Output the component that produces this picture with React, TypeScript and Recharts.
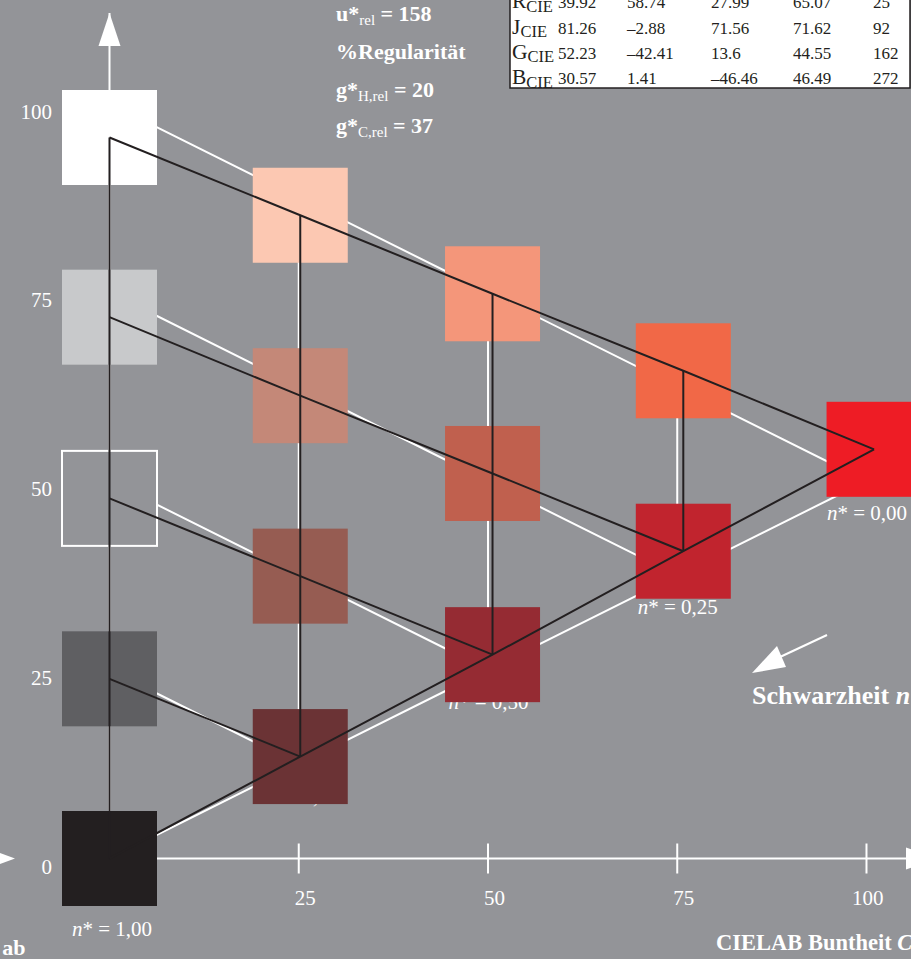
import React from 'react';
import { ComposedChart, Scatter, XAxis, YAxis, ReferenceDot } from 'recharts';

// ---------- data ----------
const chromaTicks = [25, 50, 75, 100];
const lightnessTicks = [0, 25, 50, 75, 100];

// ideal (theoretical) CIELAB grid, per chroma column: lightness values top -> bottom
const idealChroma = [0, 25, 50, 75, 100];
const idealL_c0 = [100, 75, 50, 25, 0];
const idealL_c1 = [87.5, 62.5, 37.5, 12.5];
const idealL_c2 = [75, 50, 25];
const idealL_c3 = [62.5, 37.5];
const idealL_c4 = [50];

// measured samples, per chroma column: lightness values top -> bottom
const measChroma = [0, 25.2, 50.6, 75.8, 101.0];
const measL_c0 = [95.5, 71.7, 47.7, 23.8, 0];
const measL_c1 = [85.2, 61.3, 37.4, 13.5];
const measL_c2 = [74.8, 51.0, 27.0];
const measL_c3 = [64.6, 40.7];
const measL_c4 = [54.2];

// blackness labels per column (at bottom ideal point)
const blacknessLabels = ['1,00', '0,75', '0,50', '0,25', '0,00'];

// table
const tableNames = ['R', 'J', 'G', 'B'];
const tableLstar = [39.92, 81.26, 52.23, 30.57];
const tableAstar = [58.74, -2.88, -42.41, 1.41];
const tableBstar = [27.99, 71.56, 13.6, -46.46];
const tableCstar = [65.07, 71.62, 44.55, 46.49];
const tableHue = [25, 92, 162, 272];

// ---------- styles ----------
const BG = '#939498';
const INK = '#231F20';
const SERIF = '"Liberation Serif", "Times New Roman", Times, serif';

const colColors0 = ['#FFFFFF', '#C8C9CB', 'outline', '#5F5F62', '#231F20'];
const colColors1 = ['#FCC8B2', '#C48878', '#965C52', '#6B3335'];
const colColors2 = ['#F4967A', '#C0604E', '#952B33'];
const colColors3 = ['#F16847', '#C1242E'];
const colColors4 = ['#EE1C25'];

const X_MAX = 105.22;
const Y_MAX = 111.99;
const PATCH = 95;

// ---------- derived tables ----------
const idealCols = [idealL_c0, idealL_c1, idealL_c2, idealL_c3, idealL_c4];
const measCols = [measL_c0, measL_c1, measL_c2, measL_c3, measL_c4];
const colorCols = [colColors0, colColors1, colColors2, colColors3, colColors4];

type Pt = { C: number; L: number };

function gridLines(chroma: number[], cols: number[][]): Pt[][] {
  const lines: Pt[][] = [];
  // constant-chroma verticals
  cols.forEach((ls, j) => {
    if (ls.length > 1) lines.push(ls.map((L) => ({ C: chroma[j], L })));
  });
  // constant-blackness rows
  for (let i = 0; i < cols[0].length; i++) {
    const row: Pt[] = [];
    cols.forEach((ls, j) => {
      if (ls.length > i) row.push({ C: chroma[j], L: ls[i] });
    });
    if (row.length > 1) lines.push(row);
  }
  // bottom edge (zero whiteness)
  lines.push(cols.map((ls, j) => ({ C: chroma[j], L: ls[ls.length - 1] })));
  return lines;
}

const idealLines = gridLines(idealChroma, idealCols);
const measLines = gridLines(measChroma, measCols);

const patches = measCols.flatMap((ls, j) =>
  ls.map((L, i) => ({ C: measChroma[j], L, color: colorCols[j][i] }))
);

const labelPoints = idealCols.map((ls, j) => ({
  C: idealChroma[j],
  L: ls[ls.length - 1],
  text: blacknessLabels[j],
  below: j === 0,
}));

const fmt = (v: number) => String(v).replace('-', '\u2013');

// ---------- renderers ----------
const Empty = () => <g />;

const XTick = (p: any) => (
  <g>
    <line x1={p.x} x2={p.x} y1={p.y - 15} y2={p.y + 15} stroke="#fff" strokeWidth={2} />
    <text
      x={p.x + 17}
      y={p.y + 39}
      textAnchor="end"
      dominantBaseline="central"
      fill="#fff"
      fontFamily={SERIF}
      fontSize={21}
    >
      {p.payload.value}
    </text>
  </g>
);

const YTick = (p: any) => (
  <text
    x={52}
    y={p.y + 8}
    textAnchor="end"
    dominantBaseline="central"
    fill="#fff"
    fontFamily={SERIF}
    fontSize={21}
  >
    {p.payload.value}
  </text>
);

const PatchShape = (p: any) => {
  const c = p.payload.color;
  const outline = c === 'outline';
  return (
    <rect
      x={p.cx - PATCH / 2}
      y={p.cy - PATCH / 2}
      width={PATCH}
      height={PATCH}
      fill={outline ? BG : c}
      stroke={outline ? '#fff' : 'none'}
      strokeWidth={outline ? 2 : 0}
    />
  );
};

const LabelShape = (p: any) => {
  const below = p.payload.below;
  return (
    <text
      x={p.cx - (below ? 37.5 : 39.5)}
      y={p.cy + (below ? 70 : 32)}
      dominantBaseline="central"
      fill="#fff"
      fontFamily={SERIF}
      fontSize={21}
    >
      <tspan fontStyle="italic">n</tspan>
      <tspan>{'* = ' + p.payload.text}</tspan>
    </text>
  );
};

const UpArrow = (p: any) => (
  <polygon
    points={`${p.cx},${p.cy} ${p.cx - 11},${p.cy + 33} ${p.cx + 11},${p.cy + 33}`}
    fill="#fff"
  />
);
const RightArrow = (p: any) => (
  <polygon
    points={`${p.cx},${p.cy - 11} ${p.cx + 33},${p.cy} ${p.cx},${p.cy + 11}`}
    fill="#fff"
  />
);

const Overlay = () => {
  const colX = [558, 627, 711, 793, 873];
  const baselines = [8, 33.5, 58.5, 84];
  return (
    <svg
      width={911}
      height={959}
      style={{ position: 'absolute', left: 0, top: 0, pointerEvents: 'none' }}
    >
      {/* table */}
      <rect x={510} y={-10} width={400} height={98} fill="#fff" stroke={INK} strokeWidth={1.5} />
      {tableNames.map((n, i) => {
        const vals = [tableLstar[i], tableAstar[i], tableBstar[i], tableCstar[i], tableHue[i]];
        return (
          <g key={n} fontFamily={SERIF} fill={INK}>
            <text x={512} y={baselines[i]} fontSize={21.5}>
              {n}
              <tspan fontSize={16.5} dy={3.5}>CIE</tspan>
            </text>
            {vals.map((v, k) => (
              <text key={k} x={colX[k]} y={baselines[i]} fontSize={17}>
                {fmt(v)}
              </text>
            ))}
          </g>
        );
      })}

      {/* header texts */}
      <g fill="#fff" fontFamily={SERIF} fontWeight="bold" fontSize={22}>
        <text x={336} y={21}>
          u*<tspan fontSize={15} fontWeight="normal" dy={4}>rel</tspan>
          <tspan dy={-4}> = 158</tspan>
        </text>
        <text x={336} y={58.5}>%Regularität</text>
        <text x={336} y={96.5}>
          g*<tspan fontSize={15} fontWeight="normal" dy={4}>H,rel</tspan>
          <tspan dy={-4}> = 20</tspan>
        </text>
        <text x={336} y={133}>
          g*<tspan fontSize={15} fontWeight="normal" dy={4}>C,rel</tspan>
          <tspan dy={-4}> = 37</tspan>
        </text>
      </g>

      {/* blackness arrow */}
      <line x1={827} y1={635} x2={780} y2={657} stroke="#fff" strokeWidth={2} />
      <polygon points="752,673 777,646 786,667" fill="#fff" />
      <text x={752} y={704} fill="#fff" fontFamily={SERIF} fontWeight="bold" fontSize={26}>
        Schwarzheit <tspan fontStyle="italic">n*</tspan>
      </text>

      {/* axis titles */}
      <text x={716} y={950} fill="#fff" fontFamily={SERIF} fontWeight="bold" fontSize={22.5}>
        CIELAB Buntheit <tspan fontStyle="italic">C*</tspan>
        <tspan fontSize={15} dy={4}>ab</tspan>
      </text>
      <text x={25.5} y={955} textAnchor="end" fill="#fff" fontFamily={SERIF} fontWeight="bold" fontSize={22}>
        ab
      </text>

      {/* left axis arrow fragment */}
      <polygon points="0,853 15,858.5 0,864" fill="#fff" />
    </svg>
  );
};

export default function App() {
  return (
    <div
      style={{
        position: 'absolute',
        left: 0,
        top: 0,
        width: 911,
        height: 959,
        background: BG,
        overflow: 'hidden',
      }}
    >
      <ComposedChart
        width={911}
        height={959}
        margin={{ top: 13, right: 5, bottom: 60.5, left: 49.5 }}
      >
        <XAxis
          type="number"
          dataKey="C"
          domain={[0, X_MAX]}
          ticks={chromaTicks}
          interval={0}
          height={40}
          axisLine={{ stroke: '#fff', strokeWidth: 2 }}
          tickLine={false}
          tickSize={0}
          tickMargin={0}
          tick={XTick}
        />
        <YAxis
          type="number"
          dataKey="L"
          domain={[0, Y_MAX]}
          ticks={lightnessTicks}
          interval={0}
          width={60}
          axisLine={{ stroke: '#fff', strokeWidth: 2 }}
          tickLine={false}
          tickSize={0}
          tickMargin={0}
          tick={YTick}
        />

        {idealLines.map((pts, k) => (
          <Scatter
            key={'ideal' + k}
            data={pts}
            fill="#fff"
            line={{ stroke: '#fff', strokeWidth: 2 }}
            lineType="joint"
            shape={Empty}
            isAnimationActive={false}
          />
        ))}

        <Scatter data={labelPoints} shape={LabelShape} isAnimationActive={false} />

        <Scatter data={patches} shape={PatchShape} isAnimationActive={false} />

        {measLines.map((pts, k) => (
          <Scatter
            key={'meas' + k}
            data={pts}
            fill={INK}
            line={{ stroke: INK, strokeWidth: 2 }}
            lineType="joint"
            shape={Empty}
            isAnimationActive={false}
          />
        ))}

        <ReferenceDot x={0} y={Y_MAX} ifOverflow="visible" shape={UpArrow} />
        <ReferenceDot x={X_MAX} y={0} ifOverflow="visible" shape={RightArrow} />
      </ComposedChart>
      <Overlay />
    </div>
  );
}
